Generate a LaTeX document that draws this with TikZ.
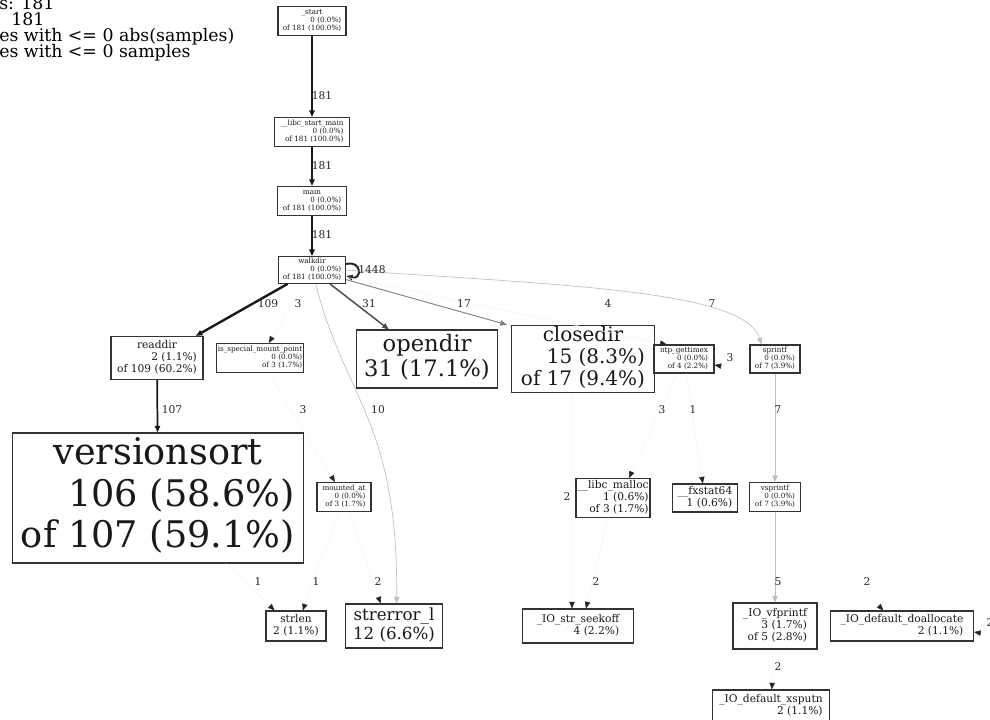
\documentclass[tikz,border=0pt]{standalone}
\usepackage{fontspec}
\setmainfont{DejaVu Serif}
\usepackage{tikz}
\usetikzlibrary{positioning,calc,arrows.meta}
\tikzstyle{fn}=[draw=black!80, line width=0.8pt, inner sep=1pt, text=black!90]
\tikzstyle{fnA}=[fn, font=\fontsize{5.4}{6}\selectfont]
\tikzstyle{fnB}=[fn, font=\fontsize{8}{9}\selectfont]
\tikzstyle{lbl}=[font=\fontsize{8}{9}\selectfont, inner sep=0pt, text=black!85]
\tikzstyle{hdr}=[anchor=base west, inner sep=0pt, font=\fontsize{13}{12}\selectfont]
\tikzstyle{tip}=[-{Triangle[length=5pt,width=4pt]}]
\tikzstyle{hot}=[line width=1.8pt, black!90, tip]
\tikzstyle{warm}=[line width=1.1pt, black!70, tip]
\tikzstyle{cool}=[line width=0.7pt, black!50, tip]
\tikzstyle{cold}=[line width=0.5pt, black!25, tip]
\tikzstyle{faint}=[line width=0.4pt, black!4, -{Triangle[length=5pt,width=4pt,color=black!85]}]
\newcommand{\prof}[2]{\begin{tabular}{@{}r@{}}\multicolumn{1}{@{}c@{}}{#1}\\#2\end{tabular}}

\begin{document}
\begin{tikzpicture}[x=0.75pt, y=-0.75pt]
	\useasboundingbox (0,0) rectangle (990,719);
	\fill[white] (0,0) rectangle (990,719);

	% legend, cut off at the left
	\node[hdr] (hd1) at (-1,9) {s: 181};
	\node[hdr] (hd2) at (11,25) {181};
	\node[hdr] (hd3) at (-1,41) {es with <= 0 abs(samples)};
	\node[hdr] (hd4) at (-1,57) {es with <= 0 samples};

	% call chain
	\node[fnA, minimum width=51pt, minimum height=21.75pt] (start) at (312,21) {\prof{\_start}{0 (0.0\%)\\of 181 (100.0\%)}};
	\node[fnA, minimum width=56.25pt, minimum height=21.75pt] (libcmain) at (312,132) {\prof{\_\_libc\_start\_main}{0 (0.0\%)\\of 181 (100.0\%)}};
	\node[fnA, minimum width=51.75pt, minimum height=21.75pt] (main) at (312,201) {\prof{main}{0 (0.0\%)\\of 181 (100.0\%)}};
	\node[fnA, minimum width=50.25pt, minimum height=19.5pt] (walkdir) at (312,270) {\prof{walkdir}{0 (0.0\%)\\of 181 (100.0\%)}};

	% second row
	\node[fnB, minimum width=69pt, minimum height=32.25pt] (readdir) at (157,358) {\prof{readdir}{2 (1.1\%)\\of 109 (60.2\%)}};
	\node[fnA, minimum width=63.75pt, minimum height=21.75pt] (isspecial) at (260,358) {\prof{is\_special\_mount\_point}{0 (0.0\%)\\of 3 (1.7\%)}};
	\node[fn, font=\fontsize{17}{19}\selectfont, minimum width=105.75pt, minimum height=43.5pt] (opendir) at (427,359) {\prof{opendir}{31 (17.1\%)}};
	\node[fn, font=\fontsize{15}{16}\selectfont, minimum width=107.25pt, minimum height=48.75pt] (closedir) at (583,359) {\prof{closedir}{15 (8.3\%)\\of 17 (9.4\%)}};
	\node[fnA, minimum width=45pt, minimum height=21pt] (ntpget) at (684,359) {\prof{ntp\_gettimex}{0 (0.0\%)\\of 4 (2.2\%)}};
	\node[fnA, minimum width=37.5pt, minimum height=21pt] (sprintf) at (775,359) {\prof{sprintf}{0 (0.0\%)\\of 7 (3.9\%)}};

	% third row
	\node[fn, font=\fontsize{27.5}{31}\selectfont, minimum width=218.25pt, minimum height=97.5pt] (versionsort) at (158,498) {\prof{versionsort}{106 (58.6\%)\\of 107 (59.1\%)}};
	\node[fnA, minimum width=40.5pt, minimum height=21.75pt] (mountedat) at (344,497) {\prof{mounted\_at}{0 (0.0\%)\\of 3 (1.7\%)}};
	\node[fnB, minimum width=52.5pt, minimum height=29.25pt] (malloc) at (613,498) {\prof{\_\_libc\_malloc}{1 (0.6\%)\\of 3 (1.7\%)}};
	\node[fnB, minimum width=48.75pt, minimum height=21pt] (fxstat) at (705,498) {\prof{\_\_fxstat64}{1 (0.6\%)}};
	\node[fnA, minimum width=38.25pt, minimum height=21.75pt] (vsprintf) at (775,497) {\prof{vsprintf}{0 (0.0\%)\\of 7 (3.9\%)}};

	% bottom row
	\node[fnB, minimum width=45pt, minimum height=22.5pt] (strlen) at (296,626) {\prof{strlen}{2 (1.1\%)}};
	\node[fn, font=\fontsize{12.5}{14}\selectfont, minimum width=72.75pt, minimum height=33pt] (strerror) at (394,626) {\prof{strerror\_l}{12 (6.6\%)}};
	\node[fnB, minimum width=83.25pt, minimum height=25.5pt] (seekoff) at (578,626) {\prof{\_IO\_str\_seekoff}{4 (2.2\%)}};
	\node[fnB, minimum width=63pt, minimum height=34.5pt] (vfprintf) at (775,626) {\prof{\_IO\_vfprintf}{3 (1.7\%)\\of 5 (2.8\%)}};
	\node[fnB, minimum width=107.25pt, minimum height=22.5pt] (doalloc) at (902,626) {\prof{\_IO\_default\_doallocate}{2 (1.1\%)}};
	\node[fnB, minimum width=87.75pt, minimum height=24pt] (xsputn) at (771,706) {\prof{\_IO\_default\_xsputn}{2 (1.1\%)}};

	% edges
	\draw[hot] (start) -- (libcmain);
	\draw[hot] (libcmain) -- (main);
	\draw[hot] (main) -- (walkdir);
	\draw[line width=1.5pt, black!85, tip] ($(walkdir.east)+(0,-6)$) .. controls +(16,-4) and +(16,4) .. ($(walkdir.east)+(0,6)$);
	\draw[hot] (walkdir) -- (readdir);
	\draw[faint] (walkdir) -- (isspecial);
	\draw[warm] (walkdir) -- (opendir);
	\draw[cool] (walkdir) -- ([xshift=-3pt]closedir.north west);
	\draw[faint] (walkdir) -- ([xshift=10pt]ntpget.north west);
	\draw[cold] (walkdir.east) .. controls (560,285) and (745,290) .. ([xshift=9pt]sprintf.north west);
	\draw[cold] (walkdir.-75) .. controls (345,400) and (398,420) .. ([xshift=2pt]strerror.north);
	\draw[line width=1.3pt, black!90, tip] (readdir) -- (versionsort);
	\draw[faint] (isspecial) -- (mountedat);
	\draw[faint] ($(ntpget.east)+(0,-6)$) .. controls +(12,-2) and +(12,2) .. ($(ntpget.east)+(0,6)$);
	\draw[faint] (ntpget) -- ([xshift=12pt]malloc.north);
	\draw[faint] (ntpget) -- (fxstat);
	\draw[cold] (sprintf) -- (vsprintf);
	\draw[faint] (versionsort) -- ([xshift=-16pt]strlen.north);
	\draw[faint] (mountedat) -- ([xshift=5pt]strlen.north);
	\draw[faint] (mountedat) -- ([xshift=-10pt]strerror.north);
	\draw[faint] ([xshift=-9pt]closedir.south) -- ([xshift=-4.5pt]seekoff.north);
	\draw[faint] (malloc) -- ([xshift=6pt]seekoff.north);
	\draw[cold] (vsprintf) -- (vfprintf);
	\draw[faint] (vsprintf) -- ([xshift=-14pt]doalloc.north);
	\draw[faint] (vfprintf) -- (xsputn);
	\draw[faint] ($(doalloc.east)+(0,-6)$) .. controls +(12,-2) and +(12,2) .. ($(doalloc.east)+(0,6)$);

	% edge labels
	\node[lbl] (e1) at (322,96) {181};
	\node[lbl] (e2) at (322,166) {181};
	\node[lbl] (e3) at (322,235) {181};
	\node[lbl] (e4) at (372,270) {1448};
	\node[lbl] (e5) at (268,304) {109};
	\node[lbl] (e6) at (298,304) {3};
	\node[lbl] (e7) at (369,304) {31};
	\node[lbl] (e8) at (464,304) {17};
	\node[lbl] (e9) at (608,304) {4};
	\node[lbl] (e10) at (712,304) {7};
	\node[lbl] (e11) at (730,358) {3};
	\node[lbl] (e12) at (172,410) {107};
	\node[lbl] (e13) at (303,410) {3};
	\node[lbl] (e14) at (378,410) {10};
	\node[lbl] (e15) at (662,410) {3};
	\node[lbl] (e16) at (693,410) {1};
	\node[lbl] (e17) at (778,410) {7};
	\node[lbl] (e18) at (567,497) {2};
	\node[lbl] (e19) at (258,582) {1};
	\node[lbl] (e20) at (316,582) {1};
	\node[lbl] (e21) at (378,582) {2};
	\node[lbl] (e22) at (596,582) {2};
	\node[lbl] (e23) at (778,582) {5};
	\node[lbl] (e24) at (867,582) {2};
	\node[lbl] (e25) at (990,623) {2};
	\node[lbl] (e26) at (778,667) {2};
\end{tikzpicture}
\end{document}
